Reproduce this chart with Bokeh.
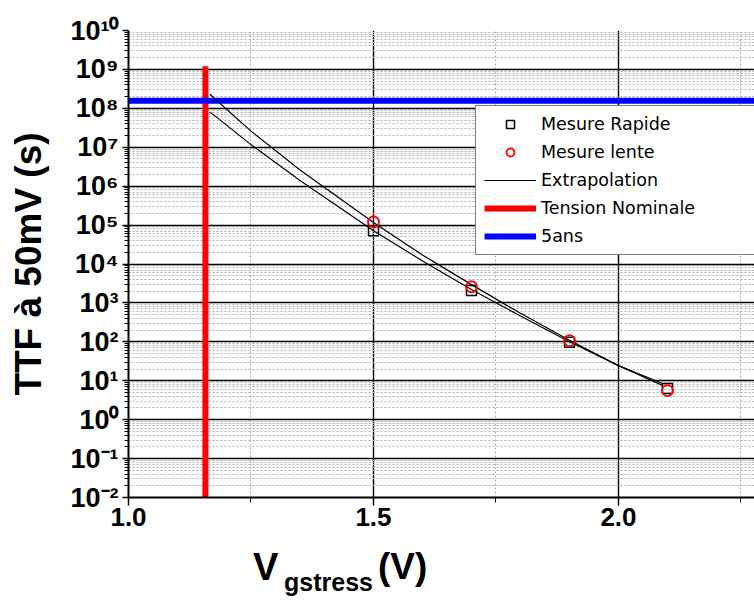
from bokeh.plotting import figure
from bokeh.layouts import column
from bokeh.models import (FixedTicker, SingleIntervalTicker, NumeralTickFormatter,
                          Legend, LegendItem, Range1d, Div)
from bokeh.embed import file_html
from bokeh.resources import INLINE

# ---- data ----
v_meas = [1.5, 1.7, 1.9, 2.1]
ttf_rapide = [7.2e4, 2.1e3, 98, 6.3]
ttf_lente = [1.2e5, 2.6e3, 107, 5.6]

v_extrap = [1.166, 1.25, 1.35, 1.5, 1.6, 1.7, 1.8, 1.9, 2.0, 2.09]
ttf_extrap_lente = [2.3e8, 2.6e7, 2.6e6, 1.17e5, 1.7e4, 2.95e3, 5.4e2, 1.1e2, 24.5, 8.5]
ttf_extrap_rapide = [8.1e7, 1.17e7, 1.4e6, 7.2e4, 1.2e4, 2.2e3, 4.6e2, 1.0e2, 24.5, 7.6]

nominal_v = [1.157, 1.157]
nominal_ttf = [1e-2, 1.2e9]

five_years_v = [1.0, 2.4]
five_years_ttf = [1.5768e8, 1.5768e8]

y_exponents = list(range(-2, 11))

x_title_main = "V"
x_title_sub = "gstress"
x_title_unit = "(V)"

FONT = "Liberation Sans"

p = figure(width=754, height=542, y_axis_type="log", title=None,
           x_range=Range1d(1.0, 2.2776), y_range=Range1d(1e-2, 1e10),
           output_backend="svg", toolbar_location=None,
           min_border_left=128, min_border_right=0,
           min_border_top=30, min_border_bottom=45)
p.outline_line_color = None
p.background_fill_color = "white"
p.border_fill_color = "white"

# axes
major_y = [10.0 ** e for e in y_exponents]
minor_y = [m * 10.0 ** e for e in y_exponents[:-1] for m in range(2, 10)]
p.yaxis.ticker = FixedTicker(ticks=major_y, minor_ticks=minor_y)
sup = str.maketrans("-0123456789", "⁻⁰¹²³⁴⁵⁶⁷⁸⁹")
p.yaxis.major_label_overrides = {t: "10" + str(e).translate(sup)
                                 for t, e in zip(major_y, y_exponents)}
p.xaxis.ticker = SingleIntervalTicker(interval=0.5, num_minor_ticks=2)
p.xaxis.formatter = NumeralTickFormatter(format="0.0")

for ax in (p.xaxis, p.yaxis):
    ax.axis_line_color = "black"
    ax.axis_line_width = 2
    ax.major_tick_line_color = "black"
    ax.minor_tick_line_color = "black"
    ax.major_tick_line_width = 1.5
    ax.minor_tick_line_width = 1
    ax.major_tick_in = 0
    ax.minor_tick_in = 0
    ax.major_label_text_font = FONT
    ax.major_label_text_font_style = "bold"
    ax.major_label_text_color = "black"

p.xaxis.major_tick_out = 8
p.xaxis.minor_tick_out = 5
p.xaxis.major_label_text_font_size = "26px"
p.xaxis.major_label_standoff = 2

p.yaxis.major_tick_out = 6
p.yaxis.minor_tick_out = 4
p.yaxis.major_label_text_font_size = "27px"
p.yaxis.major_label_standoff = 4
p.yaxis.axis_label = "TTF à 50mV (s)"
p.yaxis.axis_label_text_font = FONT
p.yaxis.axis_label_text_font_style = "bold"
p.yaxis.axis_label_text_font_size = "37px"
p.yaxis.axis_label_text_color = "black"
p.yaxis.axis_label_standoff = 18

# grids
p.xgrid.ticker = SingleIntervalTicker(interval=0.5, num_minor_ticks=2)
p.ygrid.ticker = FixedTicker(ticks=major_y, minor_ticks=minor_y)
for g in (p.xgrid, p.ygrid):
    g.grid_line_color = "black"
    g.grid_line_width = 1.4
    g.minor_grid_line_color = "#b0b0b0"
    g.minor_grid_line_dash = "2 2"
    g.minor_grid_line_width = 1

# reference lines
r_nom = p.line(nominal_v, nominal_ttf, line_color="#ff0000", line_width=6)
r_5 = p.line(five_years_v, five_years_ttf, line_color="#0000ff", line_width=6)

# extrapolations
r_ex1 = p.line(v_extrap, ttf_extrap_lente, line_color="black", line_width=1.2)
r_ex2 = p.line(v_extrap, ttf_extrap_rapide, line_color="black", line_width=1.2)

# measurements
r_rap = p.scatter(v_meas, ttf_rapide, marker="square", size=10, line_color="black",
                  line_width=1.5, fill_color=None)
r_len = p.scatter(v_meas, ttf_lente, marker="circle", size=11, line_color="#ff0000",
                  line_width=1.8, fill_color=None)

legend = Legend(items=[
    LegendItem(label="Mesure Rapide", renderers=[r_rap]),
    LegendItem(label="Mesure lente", renderers=[r_len]),
    LegendItem(label="Extrapolation", renderers=[r_ex1]),
    LegendItem(label="Tension Nominale", renderers=[r_nom]),
    LegendItem(label="5ans", renderers=[r_5]),
], location=(347, 242))
legend.label_text_font = "DejaVu Sans"
legend.label_text_font_size = "17.5px"
legend.label_text_color = "black"
legend.glyph_width = 52
legend.glyph_height = 20
legend.label_height = 20
legend.label_width = 240
legend.label_standoff = 5
legend.spacing = 8
legend.padding = 8
legend.margin = 0
legend.border_line_color = "black"
legend.border_line_width = 1.5
legend.background_fill_color = "white"
legend.background_fill_alpha = 1
p.add_layout(legend, "center")

# x-axis title with subscript, as real text below the chart
base = ("position:absolute;font-family:'Liberation Sans',Arial,sans-serif;"
        "font-weight:bold;color:black;line-height:1;white-space:nowrap;")
title_html = (
    '<div style="position:relative;width:754px;height:65px;">'
    f'<span style="{base}left:253px;top:6px;font-size:38px;">{x_title_main}</span>'
    f'<span style="{base}left:284px;top:28px;font-size:25px;">{x_title_sub}</span>'
    f'<span style="{base}left:378px;top:6px;font-size:37px;">{x_title_unit}</span>'
    '</div>'
)
xtitle = Div(text=title_html, width=754, height=65, margin=0)

layout = column(p, xtitle, spacing=0)
open("out.html", "w").write(file_html(layout, INLINE))
